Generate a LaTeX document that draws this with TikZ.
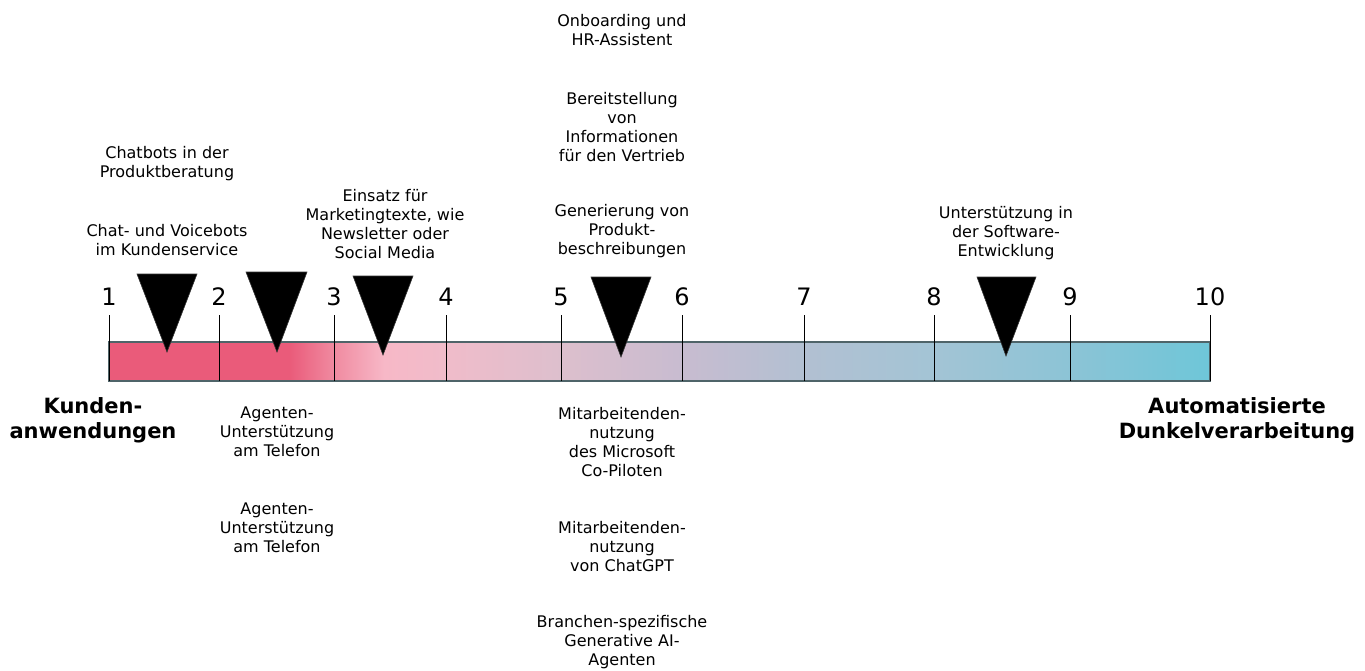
\documentclass[tikz,border=0pt]{standalone}
\usepackage{fontspec}
\setmainfont{DejaVu Sans}
\definecolor{c0}{HTML}{EA5B7A}
\definecolor{c1}{HTML}{EA5B7A}
\definecolor{c2}{HTML}{F08AA0}
\definecolor{c3}{HTML}{F7B8C7}
\definecolor{c4}{HTML}{F0BCCA}
\definecolor{c5}{HTML}{DDBFCD}
\definecolor{c6}{HTML}{C8BCD0}
\definecolor{c7}{HTML}{B2C0D2}
\definecolor{c8}{HTML}{A3C4D5}
\definecolor{c9}{HTML}{8CC4D6}
\definecolor{c10}{HTML}{6EC6D8}
\definecolor{barline}{HTML}{4F6469}
\pgfdeclarehorizontalshading{barshade}{100bp}{color(0bp)=(c0); color(25bp)=(c0); color(33.2bp)=(c1); color(35.2bp)=(c2); color(37.5bp)=(c3); color(40.3bp)=(c4); color(45.5bp)=(c5); color(51bp)=(c6); color(56.55bp)=(c7); color(62.45bp)=(c8); color(68.65bp)=(c9); color(75bp)=(c10); color(100bp)=(c10)}
\begin{document}
\begin{tikzpicture}[x=1pt,y=-1pt,
  lbl/.style={align=center,inner sep=0pt,font=\fontsize{16}{19}\selectfont},
  bigl/.style={align=center,inner sep=0pt,font=\fontsize{21}{25}\selectfont\bfseries},
  num/.style={inner sep=0pt,font=\fontsize{24}{26}\selectfont},
  tickline/.style={draw=black,line width=1pt},
  tri/.style={fill=black,draw=black!80,line width=0.6pt,line join=miter}]
\useasboundingbox (0,0) rectangle (1365,670);
% bar
\path[shading=barshade] (109,342) rectangle (1210,381);
\draw[barline,line width=1.2pt] (109,342) rectangle (1210,381);
% ticks and numbers
\foreach \x/\n in {109/1,219/2,334/3,446/4,561/5,682/6,804/7,934/8,1070/9,1210/10}{
  \draw[tickline] (\x,315) -- (\x,381);
  \node[num] (n\n) at (\x,297) {\n};
}
% triangles
\coordinate (a1) at (167,352); \coordinate (a2) at (277,352); \coordinate (a3) at (383,355);
\coordinate (a4) at (621,357); \coordinate (a5) at (1006,356);
\filldraw[tri] (137,274) -- (197,274) -- (a1) -- cycle;
\filldraw[tri] (246,272) -- (307,272) -- (a2) -- cycle;
\filldraw[tri] (353,276) -- (413,276) -- (a3) -- cycle;
\filldraw[tri] (591,277) -- (651,277) -- (a4) -- cycle;
\filldraw[tri] (977,277) -- (1036,277) -- (a5) -- cycle;
% end labels
\node[bigl] (kunden) at (93,420) {Kunden-\\anwendungen};
\node[bigl] (auto) at (1237,420) {Automatisierte\\Dunkelverarbeitung};
% top labels
\node[lbl] (t1) at (167,164) {Chatbots in der\\Produktberatung};
\node[lbl] (t2) at (167,240) {Chat- und Voicebots\\im Kundenservice};
\node[lbl] (t3) at (385,224) {Einsatz für\\Marketingtexte, wie\\Newsletter oder\\Social Media};
\node[lbl] (t4) at (622,30) {Onboarding und\\HR-Assistent};
\node[lbl] (t5) at (622,127) {Bereitstellung\\von\\Informationen\\für den Vertrieb};
\node[lbl] (t6) at (622,231) {Generierung von\\Produkt-\\beschreibungen};
\node[lbl] (t7) at (1006,233) {Unterstützung in\\der Software-\\Entwicklung};
% bottom labels
\node[lbl] (b1) at (277,432) {Agenten-\\Unterstützung\\am Telefon};
\node[lbl] (b2) at (277,528) {Agenten-\\Unterstützung\\am Telefon};
\node[lbl] (b3) at (622,442) {Mitarbeitenden-\\nutzung\\des Microsoft\\Co-Piloten};
\node[lbl] (b4) at (622,547) {Mitarbeitenden-\\nutzung\\von ChatGPT};
\node[lbl] (b5) at (622,642) {Branchen-spezifische\\Generative AI-\\Agenten};
\end{tikzpicture}
\end{document}
